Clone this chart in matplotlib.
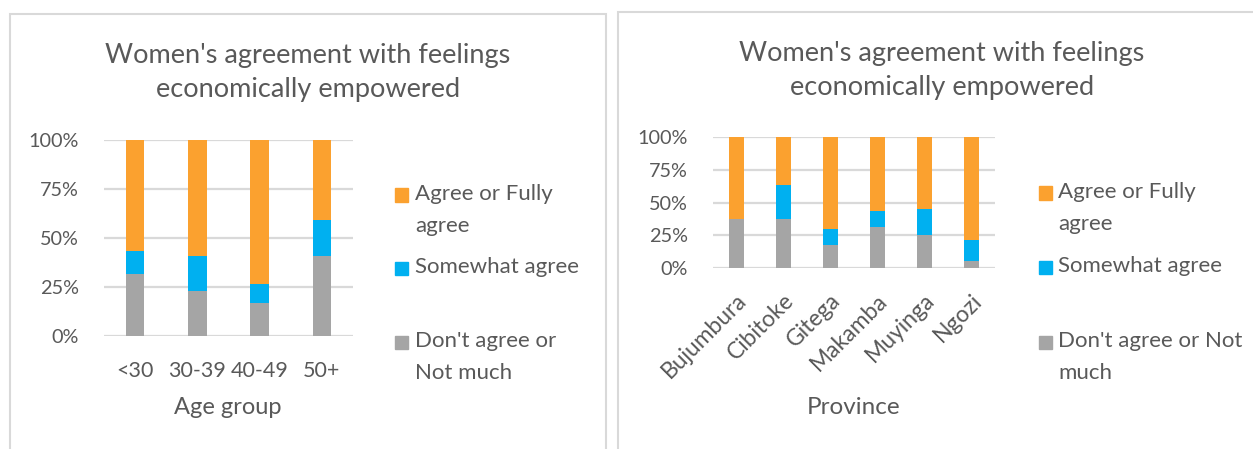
import numpy as np
import matplotlib
matplotlib.use("Agg")
import matplotlib.pyplot as plt
from matplotlib.patches import Rectangle
from matplotlib.transforms import ScaledTranslation

plt.rcParams['font.family'] = ['Lato', 'DejaVu Sans']

# data (shares)
age_groups = ["<30", "30-39", "40-49", "50+"]
age_dont = [0.316, 0.231, 0.170, 0.408]
age_somewhat = [0.119, 0.179, 0.095, 0.184]
age_agree = [0.565, 0.590, 0.735, 0.408]

provinces = ["Bujumbura", "Cibitoke", "Gitega", "Makamba", "Muyinga", "Ngozi"]
prov_dont = [0.372, 0.375, 0.173, 0.311, 0.255, 0.051]
prov_somewhat = [0.0, 0.258, 0.123, 0.123, 0.199, 0.161]
prov_agree = [0.628, 0.367, 0.704, 0.566, 0.546, 0.788]

colors = ["#A5A5A5", "#00B0F0", "#FBA12F"]
TXT = "#595959"
GRID = "#D9D9D9"
TITLE = "Women's agreement with feelings\neconomically empowered"

W, H = 1253, 449
fig = plt.figure(figsize=(W / 100, H / 100), dpi=100)


def fx(px):
    return px / W


def fy(py):
    return 1 - py / H


def draw_panel(rect, cats, values, rot):
    ax = fig.add_axes(rect)
    x = np.arange(len(cats))
    bottom = np.zeros(len(cats))
    for vals, c in zip(values, colors):
        ax.bar(x, vals, 0.3, bottom=bottom, color=c, zorder=3)
        bottom = bottom + np.array(vals)
    ax.set_xlim(-0.5, len(cats) - 0.5)
    ax.set_ylim(0, 1)
    ax.set_yticks([0, 0.25, 0.5, 0.75, 1.0])
    ax.set_yticklabels(["0%", "25%", "50%", "75%", "100%"])
    ax.yaxis.grid(True, color=GRID, lw=1.6, zorder=0)
    ax.set_xticks(x)
    ax.tick_params(length=0, colors=TXT)
    ax.tick_params(axis='y', labelsize=14.3, pad=18)
    if rot:
        ax.set_xticklabels(cats, rotation=45, ha='right', va='center',
                           rotation_mode='anchor', fontsize=16.5)
        ax.tick_params(axis='x', pad=21)
        off = ScaledTranslation(7 / 100, 0, fig.dpi_scale_trans)
        for lab in ax.get_xticklabels():
            lab.set_transform(lab.get_transform() + off)
    else:
        ax.set_xticklabels(cats, fontsize=15.5)
        ax.tick_params(axis='x', pad=18)
    for s in ax.spines.values():
        s.set_visible(False)
    return ax


# left panel: age group
fig.add_artist(Rectangle((fx(10), -0.2), fx(596), fy(14) + 0.2, transform=fig.transFigure,
                         fill=False, ec=GRID, lw=1.5))
axl = draw_panel([fx(104), fy(336), fx(249), (336 - 140) / H], age_groups,
                 [age_dont, age_somewhat, age_agree], False)
fig.text(fx(308), fy(72.5), TITLE, ha='center', va='center', fontsize=19.5,
         color=TXT, linespacing=1.47)
fig.text(fx(228), fy(407), "Age group", ha='center', va='center', fontsize=17, color=TXT)

# right panel: province
fig.add_artist(Rectangle((fx(618), -0.2), fx(700), fy(12) + 0.2, transform=fig.transFigure,
                         fill=False, ec=GRID, lw=1.5))
axr = draw_panel([fx(713), fy(268), fx(282), (268 - 137) / H], provinces,
                 [prov_dont, prov_somewhat, prov_agree], True)
fig.text(fx(942), fy(70.5), TITLE, ha='center', va='center', fontsize=19.5,
         color=TXT, linespacing=1.47)
fig.text(fx(854), fy(407), "Province", ha='center', va='center', fontsize=17.5, color=TXT)


# legends drawn by hand like the Excel ones (square next to the first line)
def legend(sq_x, txt_x, rows):
    for (label, c, y) in rows:
        fig.add_artist(Rectangle((fx(sq_x), fy(y + 6.5)), fx(13), 13 / H,
                                 transform=fig.transFigure, color=c))
        fig.text(fx(txt_x), fy(y - 11), label, ha='left', va='top', fontsize=16,
                 color=TXT, linespacing=1.75)


legend(395, 415, [("Agree or Fully\nagree", colors[2], 195),
                  ("Somewhat agree", colors[1], 268),
                  ("Don't agree or\nNot much", colors[0], 342)])
legend(1039, 1058, [("Agree or Fully\nagree", colors[2], 193),
                    ("Somewhat agree", colors[1], 267),
                    ("Don't agree or Not\nmuch", colors[0], 342)])

fig.savefig("out.png", dpi=100)
